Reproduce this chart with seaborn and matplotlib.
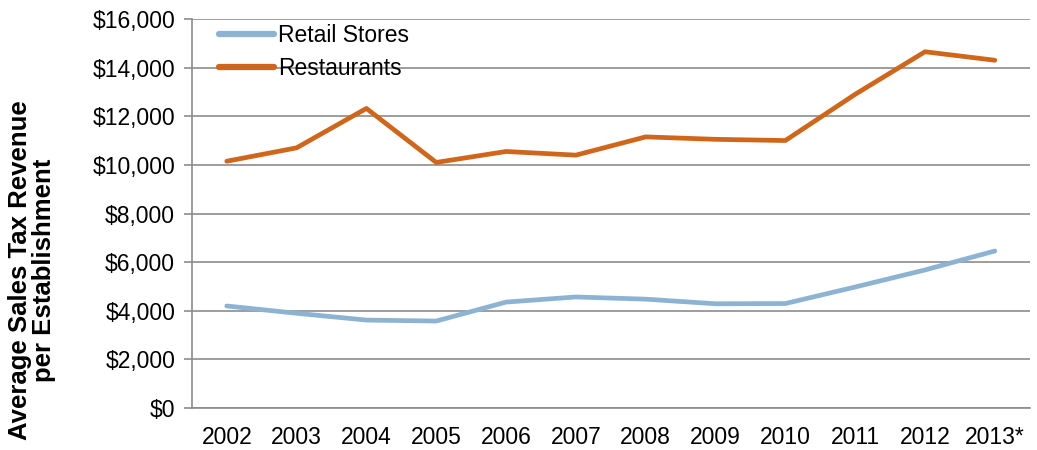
import numpy as np
import matplotlib
matplotlib.use("Agg")
import matplotlib.pyplot as plt
import matplotlib.ticker as mticker
import seaborn as sns
import pandas as pd

# Values
years = ["2002", "2003", "2004", "2005", "2006", "2007",
         "2008", "2009", "2010", "2011", "2012", "2013*"]
retail = [4200, 3900, 3620, 3580, 4360, 4570, 4480, 4290, 4300, 4980, 5680, 6460]
restaurants = [10150, 10700, 12320, 10100, 10550, 10400, 11150, 11050, 11000, 12900, 14650, 14300]
series_names = ["Retail Stores", "Restaurants"]
colors = ["#8db3d3", "#d0661a"]

df = pd.DataFrame({
    "year": years * 2,
    "value": retail + restaurants,
    "series": [series_names[0]] * len(years) + [series_names[1]] * len(years),
})

sns.set_style("white")
plt.rcParams["font.family"] = ["Liberation Sans", "DejaVu Sans"]
plt.rcParams["text.color"] = "black"
fs = 16.5

fig = plt.figure(figsize=(10.37, 4.5), dpi=100)
ax = fig.add_axes([0.185, 0.093, 0.808, 0.865])

sns.lineplot(data=df, x="year", y="value", hue="series", palette=colors,
             linewidth=3.4, sort=False, ax=ax, zorder=3)

ax.set_xlim(-0.5, len(years) - 0.5)
ax.set_ylim(0, 16000)
ax.yaxis.set_major_locator(mticker.MultipleLocator(2000))
ax.yaxis.set_major_formatter(mticker.FuncFormatter(lambda v, p: f"${v:,.0f}"))
ax.grid(axis="y", color="#8c8c8c", linewidth=1.2, zorder=0)
ax.set_axisbelow(True)

# category boundary ticks on x
ax.set_xticks(range(len(years)))
ax.set_xticklabels(years)
ax.set_xticks(np.arange(-0.5, len(years), 1.0), minor=True)
ax.tick_params(axis="x", which="major", length=0, pad=13, labelsize=fs, labelcolor="black")
ax.tick_params(axis="x", which="minor", length=6, width=1.2, color="#8c8c8c", direction="out")
ax.tick_params(axis="y", length=6, width=1.2, color="#8c8c8c", direction="out",
               labelsize=fs, labelcolor="black", pad=6, left=True)

for s in ["top", "right"]:
    ax.spines[s].set_visible(False)
for s in ["left", "bottom"]:
    ax.spines[s].set_color("#8c8c8c")
    ax.spines[s].set_linewidth(1.2)

ax.set_xlabel("")
ax.set_ylabel("Average Sales Tax Revenue\nper Establishment", fontsize=18.5,
              fontweight="bold", linespacing=1.0, color="black")
ax.yaxis.set_label_coords(-0.162, 0.355)

leg = ax.legend(loc="upper left", bbox_to_anchor=(0.022, 1.01), frameon=False,
                fontsize=fs, handlelength=2.4, handletextpad=0.15,
                labelspacing=0.45, borderaxespad=0)
for text in leg.get_texts():
    text.set_color("black")
for line in leg.get_lines():
    line.set_linewidth(4.5)

fig.savefig("out.png", dpi=100)
